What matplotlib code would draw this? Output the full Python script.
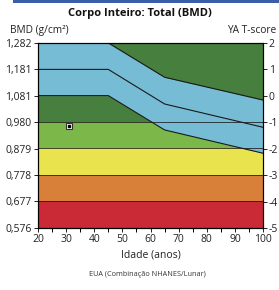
import matplotlib
matplotlib.use("Agg")
import matplotlib.pyplot as plt
from matplotlib.patches import Rectangle

plt.rcParams['font.family'] = ['Open Sans', 'DejaVu Sans']

# reference scale
bmd_ticks = [0.576, 0.677, 0.778, 0.879, 0.980, 1.081, 1.181, 1.282]
bmd_labels = ["0,576", "0,677", "0,778", "0,879", "0,980", "1,081", "1,181", "1,282"]
t_ticks = [-5, -4, -3, -2, -1, 0, 1, 2]
t_labels = ["-5", "-4", "-3", "-2", "-1", "0", "1", "2"]
ya_mean = 1.081
ya_sd = 0.1009

# T-score bands (bottom, top, colour)
band_lo = [-5, -4, -3, -2, -1]
band_hi = [-4, -3, -2, -1, 2]
band_colors = ["#c92a36", "#d8803a", "#e9e44e", "#7cb74a", "#467f3e"]

# age-matched reference curves
ages = [20, 45, 65, 100]
upper = [1.282, 1.282, 1.151, 1.064]
middle = [1.181, 1.181, 1.049, 0.960]
lower = [1.081, 1.081, 0.950, 0.861]

# patient
pt_age = [31]
pt_bmd = [0.966]


def t_to_bmd(t):
    return ya_mean + t * ya_sd


fig = plt.figure(figsize=(2.79, 2.90), dpi=100)
ax = fig.add_axes([0.136, 0.214, 0.807, 0.638])

for lo, hi, c in zip(band_lo, band_hi, band_colors):
    ax.fill_between([20, 100], t_to_bmd(lo), t_to_bmd(hi), color=c, lw=0)
for t in band_lo[1:]:
    ax.plot([20, 100], [t_to_bmd(t)] * 2, color="#1a1a1a", lw=0.7, alpha=0.8)

ax.fill_between(ages, lower, upper, color="#77bcd5", lw=0)
for curve in (upper, middle, lower):
    ax.plot(ages, curve, color="#1a1a1a", lw=0.8)

ax.plot(pt_age, pt_bmd, marker="s", ms=4.5, mfc="white", mec="#333333",
        mew=0.8, ls="none", clip_on=False)
ax.plot(pt_age, pt_bmd, marker="s", ms=1.8, color="black", ls="none")

ax.set_xlim(20, 100)
ax.set_ylim(bmd_ticks[0], bmd_ticks[-1])
ax.set_xticks(range(20, 101, 10))
ax.set_xticks(range(25, 100, 10), minor=True)
ax.set_yticks(bmd_ticks)
ax.set_yticklabels(bmd_labels)
ax.tick_params(labelsize=7.5, length=3, width=0.7, pad=1.5, colors="#222222")
ax.tick_params(which="minor", length=3, width=0.7)
for s in ax.spines.values():
    s.set_linewidth(0.8)

ax2 = ax.twinx()
ax2.set_ylim(-5, 2)
ax2.set_yticks(t_ticks)
ax2.set_yticklabels(t_labels)
ax2.tick_params(labelsize=7.5, length=3, width=0.7, pad=1, colors="#222222")

ax.set_xlabel("Idade (anos)", fontsize=7.5, labelpad=3, color="#222222")

fig.text(0.50, 0.955, "Corpo Inteiro: Total (BMD)", ha="center", va="center",
         fontsize=8, fontweight="bold", color="#111111")
fig.text(0.035, 0.895, "BMD (g/cm\u00b2)", ha="left", va="center",
         fontsize=7.3, color="#222222")
fig.text(0.99, 0.895, "YA T-score", ha="right", va="center",
         fontsize=7.3, color="#222222")
fig.text(0.53, 0.052, "EUA (Combina\u00e7\u00e3o NHANES/Lunar)", ha="center",
         va="center", fontsize=5.2, color="#333333")

fig.patches.append(Rectangle((0.045, 0.99), 0.955, 0.01, transform=fig.transFigure,
                             color="#3b5ea8", lw=0))

fig.savefig("out.png", dpi=100)
